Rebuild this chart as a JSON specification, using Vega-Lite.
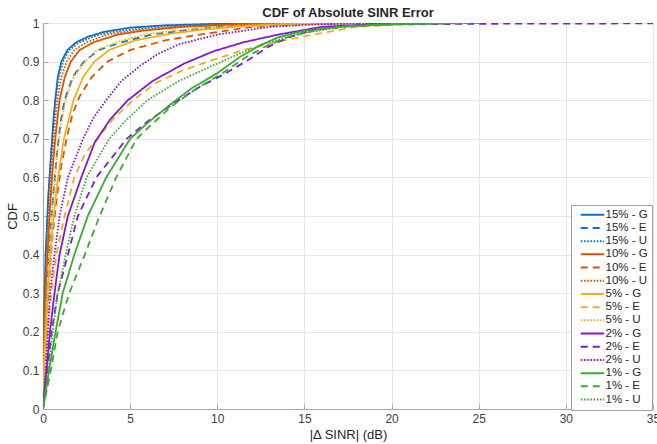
{
"$schema":"https://vega.github.io/schema/vega-lite/v6.json",
"autosize":{"type":"none"},
"padding":{"left":43,"top":23,"right":4,"bottom":35},
"width":610,"height":386,
"background":"white",
"title":{"text":"CDF of Absolute SINR Error","font":"Liberation Sans","fontSize":13,"fontWeight":"bold","color":"#262626","offset":-3},
"config":{"view":{"stroke":"#b5b5b5","strokeWidth":1},
"axis":{"labelFont":"Liberation Sans","titleFont":"Liberation Sans","labelFontSize":12,"titleFontSize":13,"labelColor":"#404040","titleColor":"#262626","titleFontWeight":"normal","gridColor":"#e6e6e6","gridWidth":1,"domainColor":"#a8a8a8","domainWidth":1.2,"tickColor":"#a8a8a8","tickSize":-5,"labelPadding":9,"labelFlush":false,"labelOverlap":false}},
"data":{"values":[
{"s":"15% - G","x":0,"y":0},{"s":"15% - G","x":0.04,"y":0.2},{"s":"15% - G","x":0.15,"y":0.4},{"s":"15% - G","x":0.3,"y":0.55},{"s":"15% - G","x":0.45,"y":0.65},{"s":"15% - G","x":0.6,"y":0.75},{"s":"15% - G","x":0.7,"y":0.8},{"s":"15% - G","x":0.85,"y":0.86},{"s":"15% - G","x":1.05,"y":0.9},{"s":"15% - G","x":1.4,"y":0.93},{"s":"15% - G","x":1.9,"y":0.95},{"s":"15% - G","x":2.6,"y":0.965},{"s":"15% - G","x":3.5,"y":0.977},{"s":"15% - G","x":5,"y":0.988},{"s":"15% - G","x":7,"y":0.994},{"s":"15% - G","x":10,"y":0.998},{"s":"15% - G","x":14,"y":1},
{"s":"15% - E","x":0,"y":0},{"s":"15% - E","x":0.06,"y":0.15},{"s":"15% - E","x":0.2,"y":0.3},{"s":"15% - E","x":0.4,"y":0.45},{"s":"15% - E","x":0.6,"y":0.56},{"s":"15% - E","x":0.8,"y":0.66},{"s":"15% - E","x":1.0,"y":0.74},{"s":"15% - E","x":1.24,"y":0.8},{"s":"15% - E","x":1.7,"y":0.86},{"s":"15% - E","x":2.35,"y":0.9},{"s":"15% - E","x":3.2,"y":0.93},{"s":"15% - E","x":4.5,"y":0.95},{"s":"15% - E","x":6.2,"y":0.97},{"s":"15% - E","x":8,"y":0.98},{"s":"15% - E","x":10,"y":0.99},{"s":"15% - E","x":14,"y":0.997},{"s":"15% - E","x":18,"y":1},
{"s":"15% - U","x":0,"y":0},{"s":"15% - U","x":0.04,"y":0.2},{"s":"15% - U","x":0.18,"y":0.4},{"s":"15% - U","x":0.35,"y":0.58},{"s":"15% - U","x":0.5,"y":0.68},{"s":"15% - U","x":0.72,"y":0.8},{"s":"15% - U","x":0.9,"y":0.86},{"s":"15% - U","x":1.15,"y":0.9},{"s":"15% - U","x":1.5,"y":0.93},{"s":"15% - U","x":2.1,"y":0.95},{"s":"15% - U","x":3.2,"y":0.97},{"s":"15% - U","x":4.5,"y":0.98},{"s":"15% - U","x":6.5,"y":0.99},{"s":"15% - U","x":9.5,"y":0.996},{"s":"15% - U","x":13,"y":1},
{"s":"10% - G","x":0,"y":0},{"s":"10% - G","x":0.05,"y":0.15},{"s":"10% - G","x":0.2,"y":0.35},{"s":"10% - G","x":0.4,"y":0.52},{"s":"10% - G","x":0.6,"y":0.65},{"s":"10% - G","x":0.75,"y":0.72},{"s":"10% - G","x":0.95,"y":0.8},{"s":"10% - G","x":1.25,"y":0.86},{"s":"10% - G","x":1.6,"y":0.9},{"s":"10% - G","x":2.1,"y":0.93},{"s":"10% - G","x":2.9,"y":0.95},{"s":"10% - G","x":4.3,"y":0.97},{"s":"10% - G","x":5.7,"y":0.98},{"s":"10% - G","x":8,"y":0.99},{"s":"10% - G","x":11,"y":0.996},{"s":"10% - G","x":15,"y":1},
{"s":"10% - E","x":0,"y":0},{"s":"10% - E","x":0.08,"y":0.12},{"s":"10% - E","x":0.3,"y":0.3},{"s":"10% - E","x":0.55,"y":0.45},{"s":"10% - E","x":0.8,"y":0.55},{"s":"10% - E","x":1.05,"y":0.63},{"s":"10% - E","x":1.4,"y":0.71},{"s":"10% - E","x":1.7,"y":0.765},{"s":"10% - E","x":2.1,"y":0.81},{"s":"10% - E","x":2.8,"y":0.86},{"s":"10% - E","x":3.7,"y":0.9},{"s":"10% - E","x":5,"y":0.93},{"s":"10% - E","x":7,"y":0.955},{"s":"10% - E","x":9,"y":0.97},{"s":"10% - E","x":12,"y":0.99},{"s":"10% - E","x":15,"y":0.997},{"s":"10% - E","x":19,"y":1},
{"s":"10% - U","x":0,"y":0},{"s":"10% - U","x":0.05,"y":0.18},{"s":"10% - U","x":0.2,"y":0.38},{"s":"10% - U","x":0.4,"y":0.56},{"s":"10% - U","x":0.6,"y":0.7},{"s":"10% - U","x":0.82,"y":0.8},{"s":"10% - U","x":1.05,"y":0.86},{"s":"10% - U","x":1.35,"y":0.9},{"s":"10% - U","x":1.8,"y":0.93},{"s":"10% - U","x":2.5,"y":0.95},{"s":"10% - U","x":3.7,"y":0.97},{"s":"10% - U","x":5.2,"y":0.98},{"s":"10% - U","x":7.5,"y":0.99},{"s":"10% - U","x":10.5,"y":0.996},{"s":"10% - U","x":14,"y":1},
{"s":"5% - G","x":0,"y":0},{"s":"5% - G","x":0.07,"y":0.12},{"s":"5% - G","x":0.3,"y":0.32},{"s":"5% - G","x":0.55,"y":0.47},{"s":"5% - G","x":0.8,"y":0.58},{"s":"5% - G","x":1.2,"y":0.7},{"s":"5% - G","x":1.75,"y":0.8},{"s":"5% - G","x":2.3,"y":0.86},{"s":"5% - G","x":2.95,"y":0.9},{"s":"5% - G","x":3.8,"y":0.93},{"s":"5% - G","x":5.3,"y":0.955},{"s":"5% - G","x":7.3,"y":0.972},{"s":"5% - G","x":9,"y":0.982},{"s":"5% - G","x":11,"y":0.99},{"s":"5% - G","x":14,"y":0.997},{"s":"5% - G","x":18,"y":1},
{"s":"5% - E","x":0,"y":0},{"s":"5% - E","x":0.1,"y":0.1},{"s":"5% - E","x":0.3,"y":0.22},{"s":"5% - E","x":0.5,"y":0.31},{"s":"5% - E","x":0.77,"y":0.4},{"s":"5% - E","x":1.24,"y":0.5},{"s":"5% - E","x":1.8,"y":0.6},{"s":"5% - E","x":2.4,"y":0.66},{"s":"5% - E","x":3.1,"y":0.7},{"s":"5% - E","x":4,"y":0.75},{"s":"5% - E","x":5.16,"y":0.8},{"s":"5% - E","x":6.5,"y":0.845},{"s":"5% - E","x":8,"y":0.877},{"s":"5% - E","x":9.8,"y":0.905},{"s":"5% - E","x":11.5,"y":0.93},{"s":"5% - E","x":13.5,"y":0.952},{"s":"5% - E","x":15.5,"y":0.97},{"s":"5% - E","x":18,"y":0.99},{"s":"5% - E","x":21,"y":0.997},{"s":"5% - E","x":25,"y":1},
{"s":"5% - U","x":0,"y":0},{"s":"5% - U","x":0.06,"y":0.15},{"s":"5% - U","x":0.22,"y":0.3},{"s":"5% - U","x":0.42,"y":0.45},{"s":"5% - U","x":0.62,"y":0.56},{"s":"5% - U","x":0.82,"y":0.66},{"s":"5% - U","x":1.05,"y":0.74},{"s":"5% - U","x":1.3,"y":0.8},{"s":"5% - U","x":1.75,"y":0.86},{"s":"5% - U","x":2.4,"y":0.9},{"s":"5% - U","x":3.1,"y":0.93},{"s":"5% - U","x":4.2,"y":0.95},{"s":"5% - U","x":5.8,"y":0.97},{"s":"5% - U","x":7.5,"y":0.98},{"s":"5% - U","x":10,"y":0.99},{"s":"5% - U","x":13,"y":0.997},{"s":"5% - U","x":17,"y":1},
{"s":"2% - G","x":0,"y":0},{"s":"2% - G","x":0.2,"y":0.1},{"s":"2% - G","x":0.4,"y":0.2},{"s":"2% - G","x":0.66,"y":0.3},{"s":"2% - G","x":0.95,"y":0.4},{"s":"2% - G","x":1.43,"y":0.5},{"s":"2% - G","x":2.2,"y":0.6},{"s":"2% - G","x":2.96,"y":0.69},{"s":"2% - G","x":3.85,"y":0.75},{"s":"2% - G","x":4.87,"y":0.8},{"s":"2% - G","x":6.3,"y":0.85},{"s":"2% - G","x":8.1,"y":0.895},{"s":"2% - G","x":9.8,"y":0.927},{"s":"2% - G","x":11.5,"y":0.95},{"s":"2% - G","x":13.5,"y":0.97},{"s":"2% - G","x":16,"y":0.99},{"s":"2% - G","x":19,"y":0.997},{"s":"2% - G","x":23,"y":1},
{"s":"2% - E","x":0,"y":0},{"s":"2% - E","x":0.25,"y":0.1},{"s":"2% - E","x":0.5,"y":0.2},{"s":"2% - E","x":0.84,"y":0.3},{"s":"2% - E","x":1.43,"y":0.4},{"s":"2% - E","x":2.0,"y":0.5},{"s":"2% - E","x":3.06,"y":0.6},{"s":"2% - E","x":4.8,"y":0.7},{"s":"2% - E","x":6,"y":0.745},{"s":"2% - E","x":7.45,"y":0.79},{"s":"2% - E","x":9,"y":0.835},{"s":"2% - E","x":10.5,"y":0.87},{"s":"2% - E","x":11.8,"y":0.905},{"s":"2% - E","x":13,"y":0.94},{"s":"2% - E","x":14.1,"y":0.963},{"s":"2% - E","x":15.5,"y":0.982},{"s":"2% - E","x":17,"y":0.99},{"s":"2% - E","x":19.5,"y":0.996},{"s":"2% - E","x":25,"y":0.998},{"s":"2% - E","x":35,"y":0.999},
{"s":"2% - U","x":0,"y":0},{"s":"2% - U","x":0.15,"y":0.1},{"s":"2% - U","x":0.28,"y":0.2},{"s":"2% - U","x":0.4,"y":0.3},{"s":"2% - U","x":0.66,"y":0.4},{"s":"2% - U","x":0.95,"y":0.5},{"s":"2% - U","x":1.43,"y":0.6},{"s":"2% - U","x":2.3,"y":0.7},{"s":"2% - U","x":2.9,"y":0.755},{"s":"2% - U","x":3.63,"y":0.8},{"s":"2% - U","x":4.5,"y":0.85},{"s":"2% - U","x":5.6,"y":0.89},{"s":"2% - U","x":6.6,"y":0.92},{"s":"2% - U","x":7.8,"y":0.945},{"s":"2% - U","x":10,"y":0.97},{"s":"2% - U","x":13,"y":0.99},{"s":"2% - U","x":16,"y":0.997},{"s":"2% - U","x":20,"y":1},
{"s":"1% - G","x":0,"y":0},{"s":"1% - G","x":0.35,"y":0.1},{"s":"1% - G","x":0.72,"y":0.2},{"s":"1% - G","x":1.13,"y":0.3},{"s":"1% - G","x":1.8,"y":0.4},{"s":"1% - G","x":2.57,"y":0.5},{"s":"1% - G","x":3.63,"y":0.6},{"s":"1% - G","x":5.0,"y":0.7},{"s":"1% - G","x":6.1,"y":0.745},{"s":"1% - G","x":7.2,"y":0.785},{"s":"1% - G","x":8.5,"y":0.83},{"s":"1% - G","x":10,"y":0.87},{"s":"1% - G","x":11.3,"y":0.912},{"s":"1% - G","x":12.5,"y":0.943},{"s":"1% - G","x":13.5,"y":0.963},{"s":"1% - G","x":15,"y":0.98},{"s":"1% - G","x":17.5,"y":0.992},{"s":"1% - G","x":20,"y":0.997},{"s":"1% - G","x":24,"y":1},
{"s":"1% - E","x":0,"y":0},{"s":"1% - E","x":0.45,"y":0.1},{"s":"1% - E","x":0.84,"y":0.2},{"s":"1% - E","x":1.5,"y":0.3},{"s":"1% - E","x":2.4,"y":0.4},{"s":"1% - E","x":3.25,"y":0.5},{"s":"1% - E","x":4.2,"y":0.6},{"s":"1% - E","x":5.37,"y":0.7},{"s":"1% - E","x":6.3,"y":0.74},{"s":"1% - E","x":7.4,"y":0.785},{"s":"1% - E","x":8.8,"y":0.83},{"s":"1% - E","x":10.3,"y":0.87},{"s":"1% - E","x":11.6,"y":0.91},{"s":"1% - E","x":12.8,"y":0.94},{"s":"1% - E","x":14,"y":0.963},{"s":"1% - E","x":15.7,"y":0.982},{"s":"1% - E","x":17.7,"y":0.992},{"s":"1% - E","x":20.5,"y":0.997},{"s":"1% - E","x":25,"y":1},
{"s":"1% - U","x":0,"y":0},{"s":"1% - U","x":0.3,"y":0.1},{"s":"1% - U","x":0.55,"y":0.2},{"s":"1% - U","x":0.85,"y":0.3},{"s":"1% - U","x":1.3,"y":0.4},{"s":"1% - U","x":1.8,"y":0.5},{"s":"1% - U","x":2.5,"y":0.6},{"s":"1% - U","x":3.8,"y":0.7},{"s":"1% - U","x":4.8,"y":0.75},{"s":"1% - U","x":6.0,"y":0.8},{"s":"1% - U","x":7.8,"y":0.85},{"s":"1% - U","x":10.25,"y":0.9},{"s":"1% - U","x":11.5,"y":0.925},{"s":"1% - U","x":12.8,"y":0.948},{"s":"1% - U","x":14.5,"y":0.97},{"s":"1% - U","x":17,"y":0.99},{"s":"1% - U","x":20,"y":0.997},{"s":"1% - U","x":24,"y":1}
]},
"mark":{"type":"line","strokeWidth":1.8,"clip":true,"strokeCap":"butt"},
"encoding":{
"x":{"field":"x","type":"quantitative","scale":{"domain":[0,35],"nice":false,"zero":false},"axis":{"title":"|Δ SINR| (dB)","values":[0,5,10,15,20,25,30,35],"format":"d","titlePadding":4}},
"y":{"field":"y","type":"quantitative","scale":{"domain":[0,1],"nice":false},"axis":{"title":"CDF","values":[0,0.1,0.2,0.3,0.4,0.5,0.6,0.7,0.8,0.9,1],"format":"~g","titlePadding":3}},
"color":{"field":"s","type":"nominal","scale":{"domain":["15% - G","15% - E","15% - U","10% - G","10% - E","10% - U","5% - G","5% - E","5% - U","2% - G","2% - E","2% - U","1% - G","1% - E","1% - U"],"range":["#1171BE","#1171BE","#1171BE","#DD5400","#DD5400","#DD5400","#EDB120","#EDB120","#EDB120","#8516D1","#8516D1","#8516D1","#3BAA32","#3BAA32","#3BAA32"]},
"legend":{"title":null,"orient":"none","legendX":528,"legendY":182,"symbolType":"M0,0H7.8","symbolSize":36,"symbolStrokeWidth":2,"labelOffset":19,"labelFont":"Liberation Sans","labelFontSize":11.5,"labelColor":"#262626","rowPadding":0.2,"padding":4,"fillColor":"white","strokeColor":"#a0a0a0","symbolFillColor":"transparent"}},
"strokeDash":{"field":"s","type":"nominal","scale":{"domain":["15% - G","15% - E","15% - U","10% - G","10% - E","10% - U","5% - G","5% - E","5% - U","2% - G","2% - E","2% - U","1% - G","1% - E","1% - U"],"range":[[1,0],[7,5],[1.6,1.6],[1,0],[7,5],[1.6,1.6],[1,0],[7,5],[1.6,1.6],[1,0],[7,5],[1.6,1.6],[1,0],[7,5],[1.6,1.6]]},"legend":{"title":null}}
}
}
